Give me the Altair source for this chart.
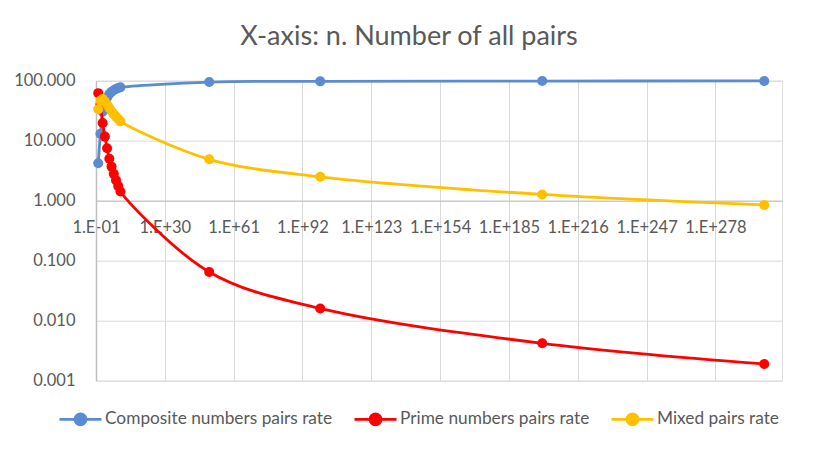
import json
import altair as alt
import pandas as pd

# ---- data ----
N_VALUES = [1, 1e1, 1e2, 1e3, 1e4, 1e5, 1e6, 1e7, 1e8, 1e9, 1e10, 1e50, 1e100, 1e200, 1e300]
COMPOSITE = [4.2, 13.0, 30.5, 43.5, 52.5, 60.0, 65.5, 69.5, 72.5, 75.5, 77.5, 95.0, 97.5, 98.7, 99.15]
PRIME = [62.0, 40.0, 19.7, 11.7, 7.5, 5.0, 3.7, 2.8, 2.2, 1.75, 1.42, 0.065, 0.016, 0.0042, 0.0019]
MIXED = [33.5, 46.5, 49.5, 45.0, 40.0, 35.0, 31.0, 27.8, 25.2, 23.0, 21.0, 4.9, 2.5, 1.27, 0.85]

SERIES = ["Composite numbers pairs rate", "Prime numbers pairs rate", "Mixed pairs rate"]
COLORS = ["#5B8BD3", "#FF0000", "#FFC000"]

XTICK_VALUES = [1e-1, 1e30, 1e61, 1e92, 1e123, 1e154, 1e185, 1e216, 1e247, 1e278]
XTICK_LABELS = ["1.E-01", "1.E+30", "1.E+61", "1.E+92", "1.E+123", "1.E+154",
                "1.E+185", "1.E+216", "1.E+247", "1.E+278"]
YTICK_VALUES = [0.001, 0.01, 0.1, 1, 10, 100]

TITLE = "X-axis: n. Number of all pairs"

rows = []
for name, vals in zip(SERIES, [COMPOSITE, PRIME, MIXED]):
    for n, v in zip(N_VALUES, vals):
        rows.append({"n": n, "value": v, "series": name})
df = pd.DataFrame(rows)

FONT = "Lato"
TEXT = "#595959"
W, H = 686, 300

label_expr = f"{json.dumps(XTICK_LABELS)}[indexof({json.dumps(XTICK_VALUES)}, datum.value)]"

x_enc = alt.X(
    "n:Q",
    title=None,
    scale=alt.Scale(type="log", domain=[0.1, 1e308]),
    axis=alt.Axis(
        values=XTICK_VALUES, labelExpr=label_expr, offset=-180,
        grid=True, gridColor="#D9D9D9", gridWidth=1,
        domain=True, domainColor="#BFBFBF", domainWidth=1,
        ticks=False, tickSize=0, labelPadding=19,
        labelFont=FONT, labelFontSize=16.5, labelColor=TEXT,
        labelFlush=False, labelOverlap=False,
    ),
)
y_enc = alt.Y(
    "value:Q",
    title=None,
    scale=alt.Scale(type="log", domain=[0.001, 100]),
    axis=alt.Axis(
        values=YTICK_VALUES, format=".3f",
        grid=True, gridColor="#D9D9D9", gridWidth=1,
        domain=True, domainColor="#BFBFBF", domainWidth=1.5,
        ticks=False, tickSize=0, labelPadding=21,
        labelFont=FONT, labelFontSize=16.5, labelColor=TEXT,
        labelFlush=False, labelOverlap=False,
    ),
)

SYMBOL = "M-1,0H1M-0.26,0A0.26,0.26,0,1,1,0.26,0A0.26,0.26,0,1,1,-0.26,0Z"
color_enc = alt.Color(
    "series:N",
    scale=alt.Scale(domain=SERIES, range=COLORS),
    legend=alt.Legend(
        title=None, orient="none", direction="horizontal",
        legendX=-38, legendY=316, padding=0,
        symbolType=SYMBOL, symbolSize=1764, symbolStrokeWidth=2.8,
        symbolOpacity=1,
        labelFont=FONT, labelFontSize=17.3, labelColor=TEXT, labelLimit=500,
        labelOffset=2, columnPadding=15,
    ),
)

base = alt.Chart(df).encode(x=x_enc, y=y_enc, color=color_enc)
layers = []
for name in SERIES:
    sub = base.transform_filter(alt.datum.series == name)
    layers.append(sub.mark_point(filled=True, size=100, opacity=1))
    layers.append(sub.mark_line(strokeWidth=2.8, interpolate="catmull-rom"))

chart = alt.layer(*layers).properties(
    width=W, height=H,
    title=alt.TitleParams(
        TITLE, anchor="middle", frame="group", dx=-30, offset=22,
        font=FONT, fontSize=27, fontWeight="normal", color=TEXT,
    ),
    autosize=alt.AutoSizeParams(type="none"),
    padding={"left": 88, "top": 72.7, "right": 29, "bottom": 63.3},
).configure_view(strokeWidth=0).configure(background="white")

chart.save("out.html", embed_options={"renderer": "svg", "actions": False})
